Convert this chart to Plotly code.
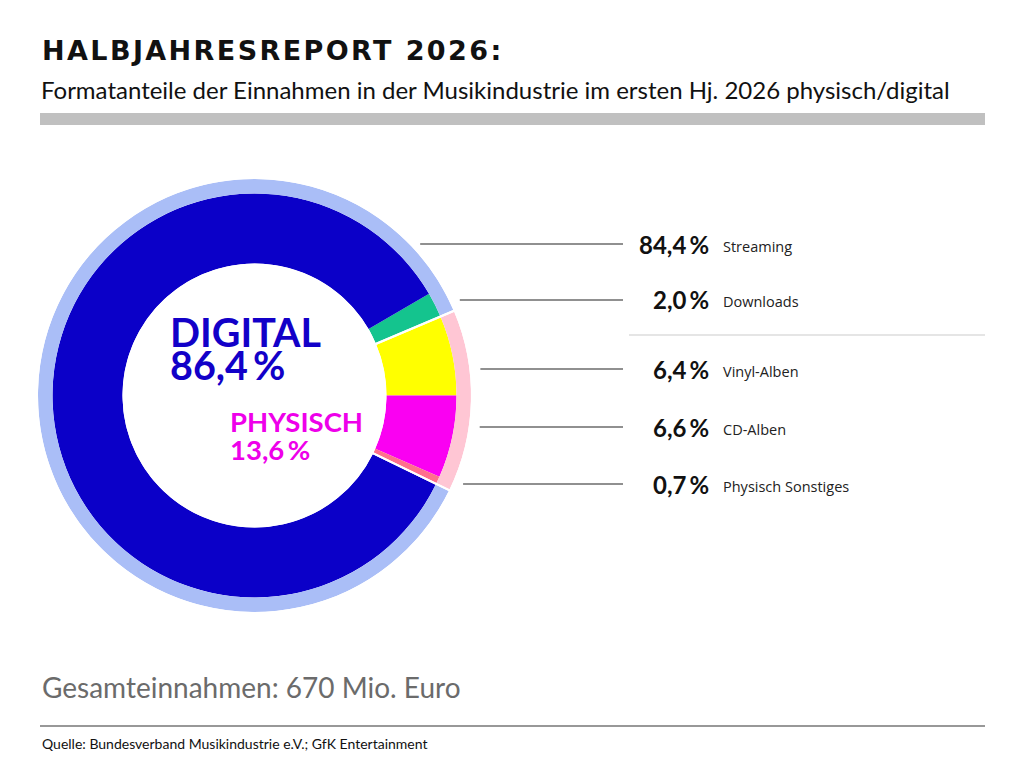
import math
import plotly.graph_objects as go

# ---------------- data ----------------
formats = ["Downloads", "Vinyl-Alben", "CD-Alben", "Physisch Sonstiges", "Streaming"]
shares = [2.0, 6.4, 6.6, 0.7, 84.4]
groups = ["digital", "physisch", "physisch", "physisch", "digital"]

group_names = ["PHYSISCH", "DIGITAL"]
group_shares = [13.6, 86.4]

label_order = ["Streaming", "Downloads", "Vinyl-Alben", "CD-Alben", "Physisch Sonstiges"]

title = "HALBJAHRESREPORT 2026:"
subtitle = "Formatanteile der Einnahmen in der Musikindustrie im ersten Hj. 2026 physisch/digital"
total_text = "Gesamteinnahmen: 670 Mio. Euro"
source_text = "Quelle: Bundesverband Musikindustrie e.V.; GfK Entertainment"

# ---------------- styles / layout ----------------
W, H = 1024, 776
slice_colors = {"Downloads": "#14C48E", "Vinyl-Alben": "#FFFF00", "CD-Alben": "#FA00F2",
                "Physisch Sonstiges": "#FF6F8C", "Streaming": "#0B00C8"}
ring_colors = {"PHYSISCH": "#FFC6D4", "DIGITAL": "#AABEF7"}
text_colors = {"DIGITAL": "#1200C8", "PHYSISCH": "#EE00EA"}

cx, cy = 254.5, 395.5          # donut centre (px)
R_outer, R_inner, R_hole = 216.5, 202.0, 132.0
label_y = [244, 300, 369, 427, 484]
line_end_x = 623
pct_right_x = 711
name_left_x = 721


def px(x):
    return x / W


def py(y):
    return 1 - y / H


def dom(r):
    return dict(x=[px(cx - r), px(cx + r)], y=[py(cy + r), py(cy - r)])


def de(v):
    return f"{v:.1f}".replace(".", ",")


total = sum(shares)
# vinyl/CD border sits at 3 o'clock; start angle of the first slice (Downloads)
start = 90 - (shares[0] + shares[1]) / total * 360
phys_start = start + shares[0] / total * 360

fig = go.Figure()

# inner donut with formats
fig.add_trace(go.Pie(
    labels=formats, values=shares, sort=False, direction="clockwise", rotation=start,
    hole=R_hole / R_inner, domain=dom(R_inner), textinfo="none", hoverinfo="label+value",
    marker=dict(colors=[slice_colors[f] for f in formats], line=dict(width=0)),
    showlegend=False,
))

# outer ring digital / physical
fig.add_trace(go.Pie(
    labels=group_names, values=group_shares, sort=False, direction="clockwise", rotation=phys_start,
    hole=R_inner / R_outer, domain=dom(R_outer), textinfo="none", hoverinfo="label+value",
    marker=dict(colors=[ring_colors[g] for g in group_names], line=dict(width=0)),
    showlegend=False,
))

# white separators between physical and digital across both rings
fig.add_trace(go.Pie(
    labels=group_names, values=group_shares, sort=False, direction="clockwise", rotation=phys_start,
    hole=(R_hole - 1) / (R_outer + 1), domain=dom(R_outer + 1), textinfo="none", hoverinfo="skip",
    marker=dict(colors=["rgba(0,0,0,0)", "rgba(0,0,0,0)"], line=dict(width=2, color="white")),
    showlegend=False,
))

shapes = []
annotations = []


def add_text(x, y, text, size, color, family="Lato", anchor="left"):
    annotations.append(dict(x=px(x), y=py(y), xref="paper", yref="paper", xanchor=anchor,
                            yanchor="middle", text=text, showarrow=False, align=anchor,
                            font=dict(family=family, size=size, color=color)))


# title and subtitle
add_text(40, 51, f"<b>{title}</b>", 27, "#111111", family="DejaVu Sans")
add_text(39, 89, subtitle, 24, "#111111")
# grey bar
shapes.append(dict(type="rect", xref="paper", yref="paper", x0=px(40), x1=px(985), y0=py(125), y1=py(113),
                   fillcolor="#C0C0C0", line=dict(width=0), layer="below"))

# labels with leader lines
for name, ly in zip(label_order, label_y):
    v = shares[formats.index(name)]
    dy = cy - ly
    x0 = cx + math.sqrt(max(R_outer ** 2 - dy ** 2, 0)) + 11
    shapes.append(dict(type="line", xref="paper", yref="paper", x0=px(x0), x1=px(line_end_x),
                       y0=py(ly), y1=py(ly), line=dict(color="#222222", width=1.2)))
    add_text(pct_right_x, ly, f"<b>{de(v)}\u2009%</b>", 24, "#111111", anchor="right")
    add_text(name_left_x, ly + 2, name, 14.5, "#222222", family="Open Sans")

# separator between digital and physical labels
shapes.append(dict(type="line", xref="paper", yref="paper", x0=px(629), x1=px(985), y0=py(335), y1=py(335),
                   line=dict(color="#CCCCCC", width=1.2)))

# centre texts
add_text(168, 331.5, f"<b>{group_names[1]}</b>", 39.5, text_colors["DIGITAL"])
add_text(168, 364, f"<b>{de(group_shares[1])}\u2009%</b>", 39.5, text_colors["DIGITAL"])
add_text(228, 421.5, f"<b>{group_names[0]}</b>", 27.5, text_colors["PHYSISCH"])
add_text(228, 449, f"<b>{de(group_shares[0])}\u2009%</b>", 27.5, text_colors["PHYSISCH"])

# total and source
add_text(40, 687, total_text, 28, "#6B6B6B")
shapes.append(dict(type="line", xref="paper", yref="paper", x0=px(40), x1=px(985), y0=py(726), y1=py(726),
                   line=dict(color="#333333", width=1.2)))
add_text(40, 743, source_text, 14, "#111111")

fig.update_layout(width=W, height=H, margin=dict(l=0, r=0, t=0, b=0, pad=0),
                  paper_bgcolor="white", plot_bgcolor="white", showlegend=False,
                  shapes=shapes, annotations=annotations)

post = ("var gd=document.getElementById('{plot_id}');"
        "gd.querySelectorAll('text.annotation-text').forEach(function(t){"
        "if(t.textContent.indexOf('HALBJAHRES')===0){t.style.letterSpacing='2.4px';}});")

fig.write_html("out.html", post_script=post)
